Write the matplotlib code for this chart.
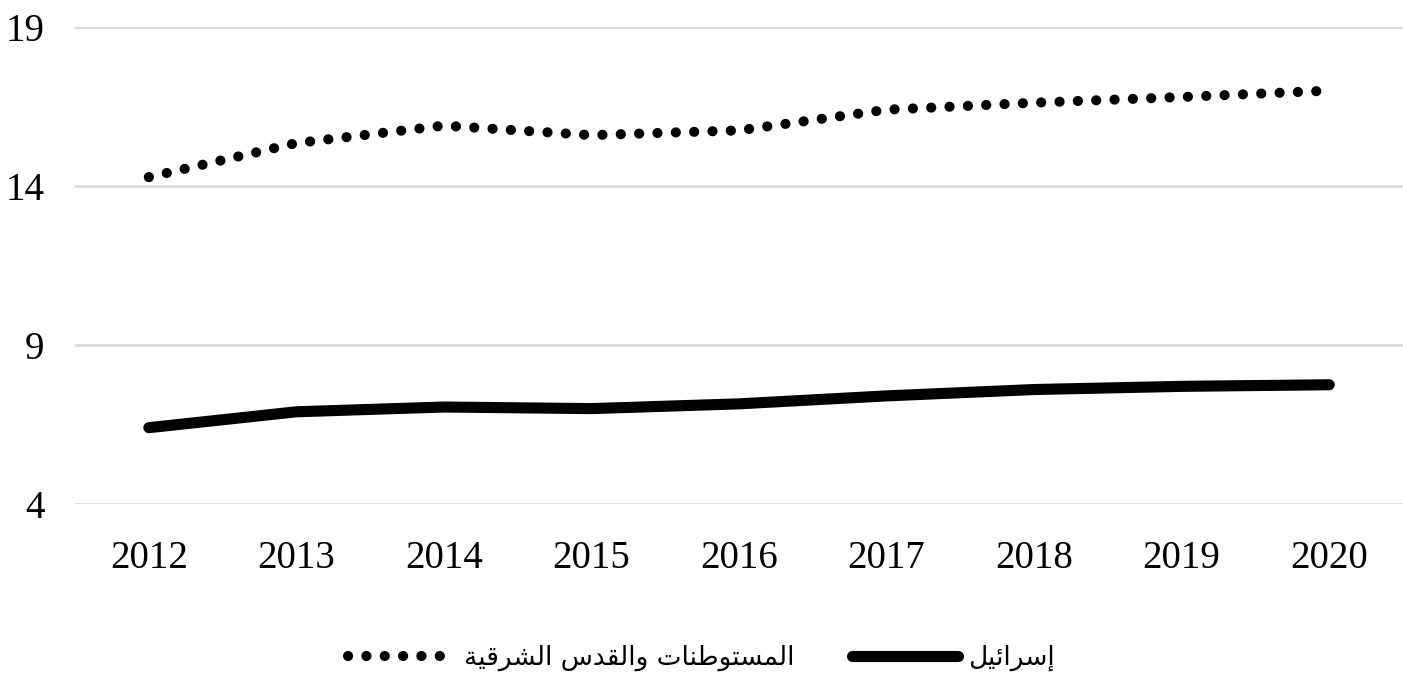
import matplotlib
matplotlib.use("Agg")
import matplotlib.pyplot as plt
from matplotlib.lines import Line2D

years = ["2012", "2013", "2014", "2015", "2016", "2017", "2018", "2019", "2020"]
settlements = [14.28, 15.35, 15.9, 15.6, 15.75, 16.4, 16.62, 16.8, 17.0]
israel = [6.4, 6.9, 7.05, 7.0, 7.15, 7.4, 7.6, 7.7, 7.75]
yticks = [4, 9, 14, 19]

# Arabic labels (presentation forms, visual order)
def visual(s):
    return s[::-1]

lbl_settle = visual("\uFE8D\uFEDF\uFEE4\uFEB4\uFE98\uFEEE\uFEC3\uFEE8\uFE8E\uFE95 "
                    "\uFEED\uFE8D\uFEDF\uFED8\uFEAA\uFEB1 "
                    "\uFE8D\uFEDF\uFEB8\uFEAE\uFED7\uFEF4\uFE94")
lbl_israel = visual("\uFE87\uFEB3\uFEAE\uFE8D\uFE8B\uFEF4\uFEDE")

plt.rcParams['font.family'] = ['Liberation Serif', 'DejaVu Sans']

fig = plt.figure(figsize=(14.03, 6.86), dpi=100)
ax = fig.add_axes([0.0535, 0.2653, 0.9465, 0.6953])

DOT_LW = 7.3
DOT_STYLE = (0, (0.01, 1.8))
LINE_LW = 8

x = list(range(len(years)))
ax.plot(x, settlements, color='black', lw=DOT_LW, linestyle=DOT_STYLE,
        dash_capstyle='round', solid_capstyle='round')
ax.plot(x, israel, color='black', lw=LINE_LW, solid_capstyle='round')

ax.set_xlim(-0.5, len(years) - 0.5)
ax.set_ylim(4, 19)
ax.set_yticks(yticks)
ax.set_yticklabels([str(v) for v in yticks])
ax.set_xticks(x)
ax.set_xticklabels(years)
ax.tick_params(axis='both', length=0, labelsize=28)
ax.tick_params(axis='y', pad=22)
ax.tick_params(axis='x', pad=26)
ax.grid(axis='y', color='#d9d9d9', lw=2)
ax.set_axisbelow(True)
for s in ax.spines.values():
    s.set_visible(False)

handles = [
    Line2D([], [], color='black', lw=DOT_LW, linestyle=DOT_STYLE, dash_capstyle='round'),
    Line2D([], [], color='black', lw=LINE_LW, solid_capstyle='round'),
]
leg = fig.legend(handles, [lbl_settle, lbl_israel], loc='center', ncol=2,
                 bbox_to_anchor=(0.5, 1 - 658 / 686), frameon=False,
                 prop={'family': ['DejaVu Sans'], 'size': 19},
                 handlelength=4.0, handletextpad=0.4, columnspacing=2.2)

fig.savefig("out.png", dpi=100, facecolor='white')
